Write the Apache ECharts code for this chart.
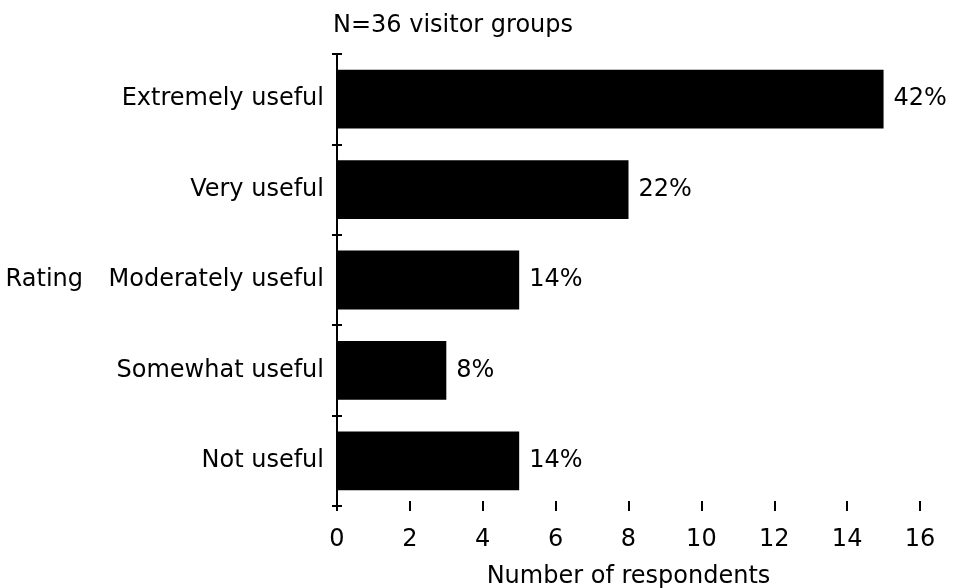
<!DOCTYPE html>
<html>
<head>
<meta charset="utf-8">
<script src="https://cdn.jsdelivr.net/npm/echarts@6/dist/echarts.min.js"></script>
<style>
html,body{margin:0;padding:0;background:#fff;}
#chart{width:953px;height:588px;}
</style>
</head>
<body>
<div id="chart"></div>
<script>
var ratings = ['Extremely useful', 'Very useful', 'Moderately useful', 'Somewhat useful', 'Not useful'];
var counts = [15, 8, 5, 3, 5];
var percents = ['42%', '22%', '14%', '8%', '14%'];
var xTicks = [0, 16, 2];  // min, max, step

var font = 'DejaVu Sans';
var fs = 24;
var chart = echarts.init(document.getElementById('chart'));

var axisBase = {
    axisLine: {lineStyle: {color: '#000', width: 2}},
    splitLine: {show: false}
};

var option = {
    animation: false,
    title: {
        text: 'N=36 visitor groups',
        left: 328,
        top: 9,
        textStyle: {fontFamily: font, fontSize: fs, fontWeight: 'normal', color: '#000'}
    },
    grid: {left: 337, right: 33, top: 54, bottom: 82, containLabel: false, outerBoundsMode: 'none'},
    xAxis: [
        Object.assign({
            type: 'value',
            min: xTicks[0], max: xTicks[1], interval: xTicks[2],
            position: 'bottom',
            name: 'Number of respondents',
            nameLocation: 'middle',
            nameGap: 59,
            nameTextStyle: {fontFamily: font, fontSize: fs, color: '#000'},
            axisTick: {show: true, length: 5, lineStyle: {color: '#000', width: 2}},
            axisLabel: {fontFamily: font, fontSize: fs, color: '#000', margin: 22}
        }, axisBase),
        Object.assign({
            type: 'value',
            min: xTicks[0], max: xTicks[1], interval: xTicks[2],
            position: 'bottom',
            axisTick: {show: true, inside: true, length: 5, lineStyle: {color: '#000', width: 2}},
            axisLabel: {show: false}
        }, axisBase)
    ],
    yAxis: [
        Object.assign({
            type: 'category',
            data: ratings,
            inverse: true,
            name: 'Rating',
            nameLocation: 'middle',
            nameRotate: 0,
            nameGap: 254,
            nameTextStyle: {fontFamily: font, fontSize: fs, color: '#000'},
            axisTick: {show: true, length: 5, lineStyle: {color: '#000', width: 2}},
            axisLabel: {fontFamily: font, fontSize: fs, color: '#000', margin: 13}
        }, axisBase),
        Object.assign({
            type: 'category',
            data: ratings,
            inverse: true,
            position: 'left',
            axisTick: {show: true, inside: true, length: 5, lineStyle: {color: '#000', width: 2}},
            axisLabel: {show: false}
        }, axisBase)
    ],
    series: [{
        type: 'bar',
        data: counts,
        barCategoryGap: '35%',
        itemStyle: {color: '#000'},
        label: {
            show: true,
            position: 'right',
            distance: 10,
            fontFamily: font,
            fontSize: fs,
            color: '#000',
            formatter: function (p) { return percents[p.dataIndex]; }
        }
    }]
};
chart.setOption(option);
</script>
</body>
</html>
